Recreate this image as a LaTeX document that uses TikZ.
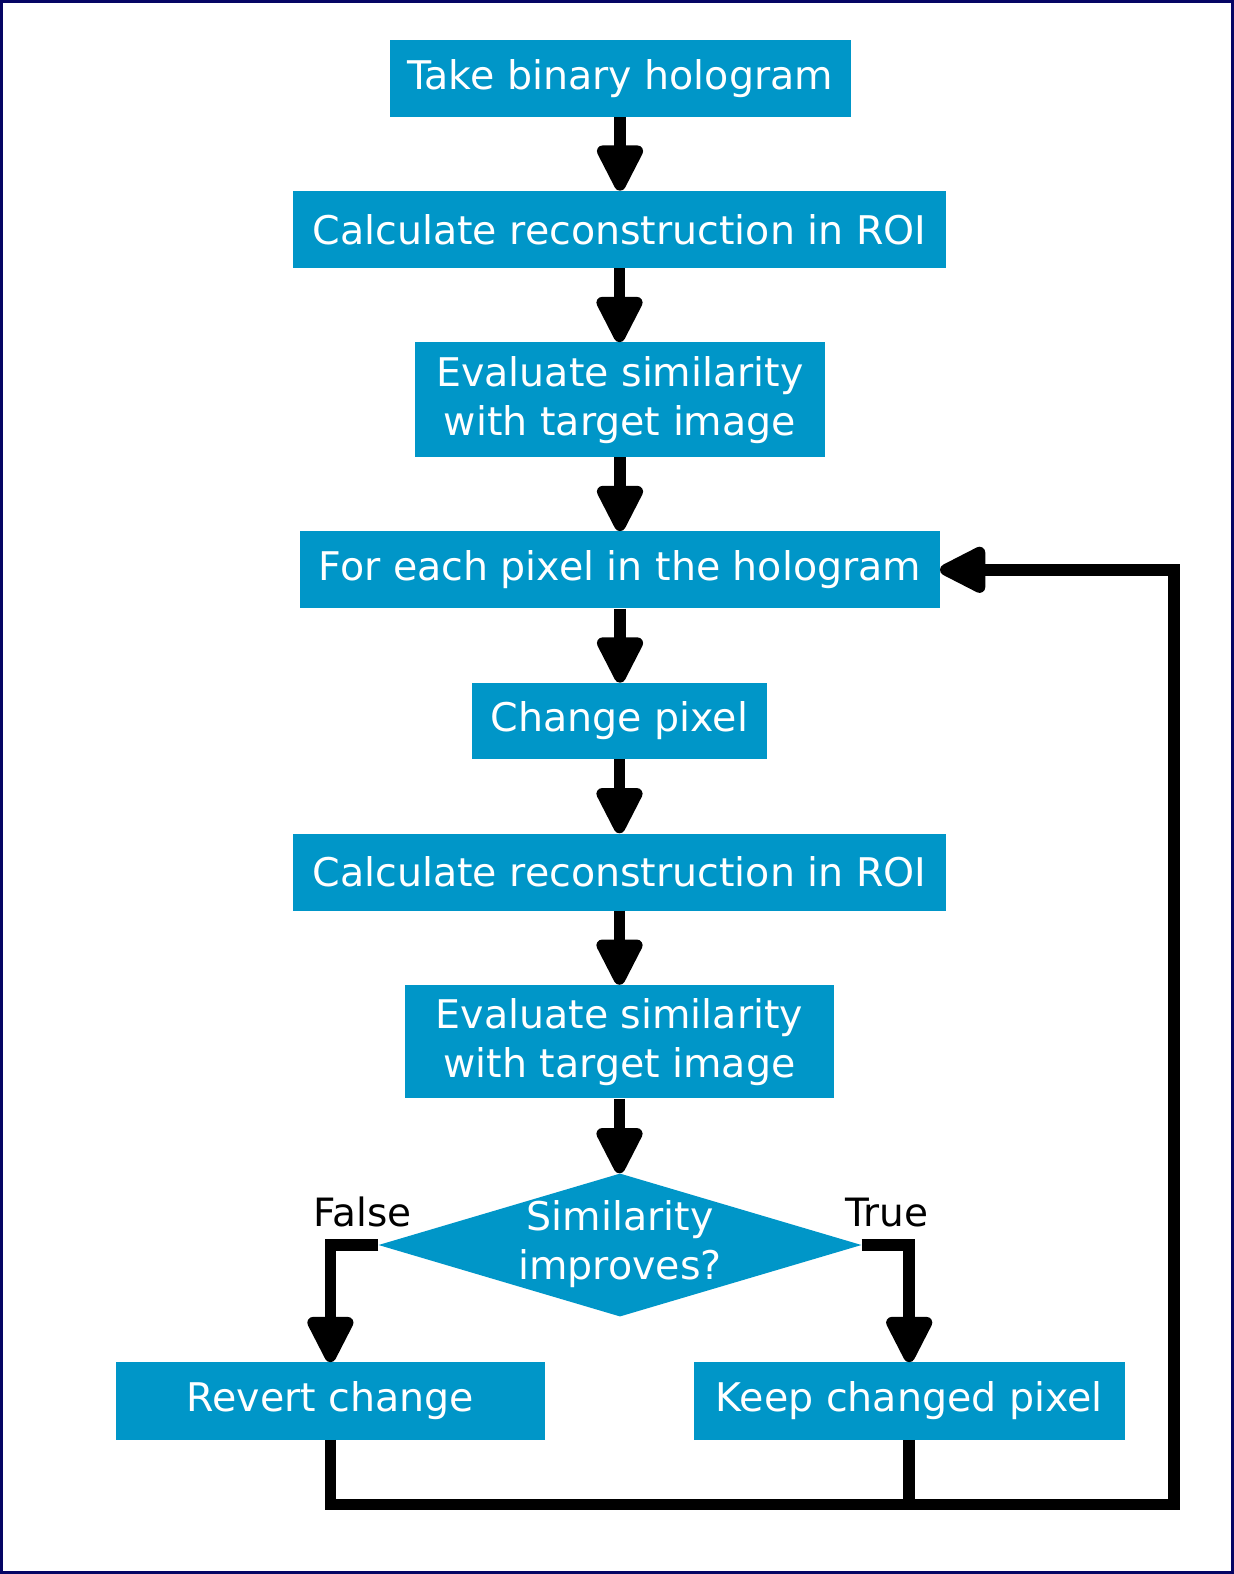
\documentclass[tikz,border=0pt]{standalone}
\usepackage{fontspec}
\setmainfont{DejaVu Sans}
\usetikzlibrary{arrows.meta,shapes.geometric}
\definecolor{boxblue}{RGB}{0,150,200}
\definecolor{frameblue}{RGB}{5,5,100}
\begin{document}
\begin{tikzpicture}[x=1pt,y=-1pt,
  box/.style={rectangle, fill=boxblue, text=white, inner sep=0pt, align=center,
    font=\fontsize{39.5}{49}\selectfont},
  decbox/.style={diamond, fill=boxblue, inner sep=0pt, minimum width=483pt, minimum height=143pt},
  dectext/.style={text=white, align=center, inner sep=0pt, font=\fontsize{39.5}{49}\selectfont},
  flow/.style={line width=11.5pt, line join=miter, -{Triangle[length=53pt,width=50pt,round]}},
  link/.style={line width=11.5pt, line join=miter},
  lbl/.style={text=black, inner sep=0pt, anchor=base, font=\fontsize{39}{46}\selectfont}]
\useasboundingbox (0,0) rectangle (1234,1574);
\draw[frameblue, line width=3pt] (1.5,1.5) rectangle (1232.5,1572.5);

\node[box, minimum width=461pt, minimum height=76.5pt] (b1) at (620,78.3) {Take binary hologram};
\node[box, minimum width=652.6pt, minimum height=77pt] (b2) at (619.5,229.4) {Calculate reconstruction in ROI};
\node[box, minimum width=410.6pt, minimum height=114.5pt] (b3) at (620,399.6) {Evaluate similarity\\with target image};
\node[box, minimum width=639.6pt, minimum height=77pt] (b4) at (620,569.8) {For each pixel in the hologram};
\node[box, minimum width=295.2pt, minimum height=76.3pt] (b5) at (619.5,721) {Change pixel};
\node[box, minimum width=652.6pt, minimum height=77pt] (b6) at (619.5,872) {Calculate reconstruction in ROI};
\node[box, minimum width=429.8pt, minimum height=113.4pt] (b7) at (619.5,1041.7) {Evaluate similarity\\with target image};
\node[decbox] (dec) at (620,1245) {};
\node[dectext] (dect) at (620,1244) {Similarity\\improves?};
\node[box, minimum width=429.7pt, minimum height=77.3pt] (revert) at (330.4,1401) {Revert change};
\node[box, minimum width=430.8pt, minimum height=77.3pt] (keep) at (909.2,1401) {Keep changed pixel};

\node[lbl] (lfalse) at (362.5,1226) {False};
\node[lbl] (ltrue) at (887,1226) {True};

\draw[flow] (b1.south) -- (b1.south |- b2.north);
\draw[flow] (b2.south) -- (b2.south |- b3.north);
\draw[flow] (b3.south) -- (b3.south |- b4.north);
\draw[flow] (b4.south) -- (b4.south |- b5.north);
\draw[flow] (b5.south) -- (b5.south |- b6.north);
\draw[flow] (b6.south) -- (b6.south |- b7.north);
\draw[flow] (b7.south) -- (b7.south |- dec.north);
\draw[flow] (dec.west) -| (revert.north);
\draw[flow] (dec.east) -| (keep.north);

\coordinate (bl) at (330.4,1504.5);
\coordinate (br) at (1174,1504.5);
\coordinate (tr) at (1174,569.8);
\draw[flow] (revert.south) -- (revert.south |- bl) -- (br) -- (tr) -- (b4.east);
\draw[link] (keep.south) -- (keep.south |- bl);
\end{tikzpicture}
\end{document}
